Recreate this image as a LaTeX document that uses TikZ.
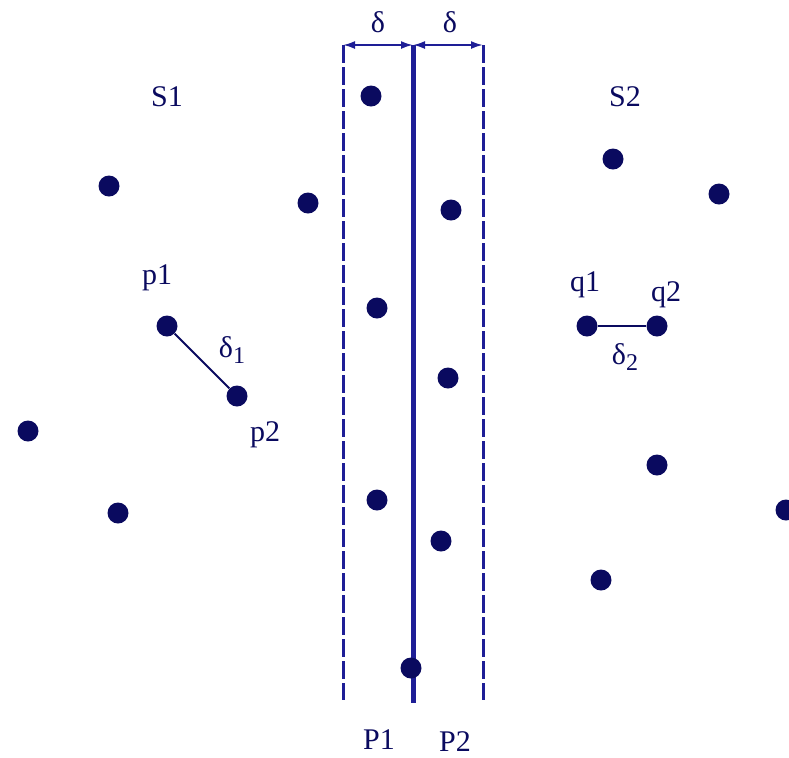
\documentclass[tikz,border=0pt]{standalone}
\usepackage{fontspec}
\setmainfont{Liberation Serif}
\usepackage{tikz}
\usetikzlibrary{positioning,arrows.meta}
\definecolor{ink}{RGB}{10,10,95}
\definecolor{lineblue}{RGB}{30,30,150}
\newcommand{\lowsub}[1]{\raisebox{-0.45ex}{\fontsize{12}{13}\selectfont #1}}
\tikzset{
  dot/.style={circle,fill=ink,inner sep=0pt,minimum size=10.5pt},
  lbl/.style={text=ink,font=\fontsize{15}{17}\selectfont,inner sep=1pt},
  bound/.style={lineblue,line width=1.5pt,dash pattern=on 9pt off 2pt},
}
\begin{document}
\begin{tikzpicture}[x=0.5pt,y=-0.5pt]
  \useasboundingbox (0,0) rectangle (789,757);
  % strip lines: left boundary, dividing line, right boundary
  \coordinate (lt) at (343,45);  \coordinate (lb) at (343,700);
  \coordinate (mt) at (413,45);  \coordinate (mb) at (413,703);
  \coordinate (rt) at (483,45);  \coordinate (rb) at (483,700);
  \draw[bound] (lt) -- (lb);
  \draw[bound] (rt) -- (rb);
  \draw[lineblue,line width=2.5pt] (mt) -- (mb);
  \draw[lineblue,line width=1pt,{Latex[length=6pt,width=4pt]}-{Latex[length=6pt,width=4pt]}] (lt) -- (mt);
  \draw[lineblue,line width=1pt,{Latex[length=6pt,width=4pt]}-{Latex[length=6pt,width=4pt]}] (mt) -- (rt);
  \node[lbl] (d1) at (378,22) {δ};
  \node[lbl] (d2) at (450,22) {δ};
  % scattered points
  \foreach \x/\y in {371/96,109/186,308/203,451/210,613/159,719/194,377/308,448/378,
                     28/431,657/465,377/500,118/513,441/541,601/580,786/510,411/668} {
     \node[dot] at (\x,\y) {};
  }
  % closest pairs
  \node[dot] (p1) at (167,326) {};
  \node[dot] (p2) at (237,396) {};
  \node[dot] (q1) at (587,326) {};
  \node[dot] (q2) at (657,326) {};
  \draw[ink,line width=1pt] (p1) -- (p2);
  \draw[ink,line width=1pt] (q1) -- (q2);
  \node[lbl] (lp1) at (157,278) {p1};
  \node[lbl] (lp2) at (265,435) {p2};
  \node[lbl] (ld1) at (232,350) {δ\lowsub{1}};
  \node[lbl] (lq1) at (585,285) {q1};
  \node[lbl] (lq2) at (666,295) {q2};
  \node[lbl] (ld2) at (625,357) {δ\lowsub{2}};
  \node[lbl] (s1) at (167,97) {S1};
  \node[lbl] (s2) at (625,97) {S2};
  \node[lbl] (P1) at (379,740) {P1};
  \node[lbl] (P2) at (455,742) {P2};
\end{tikzpicture}
\end{document}
